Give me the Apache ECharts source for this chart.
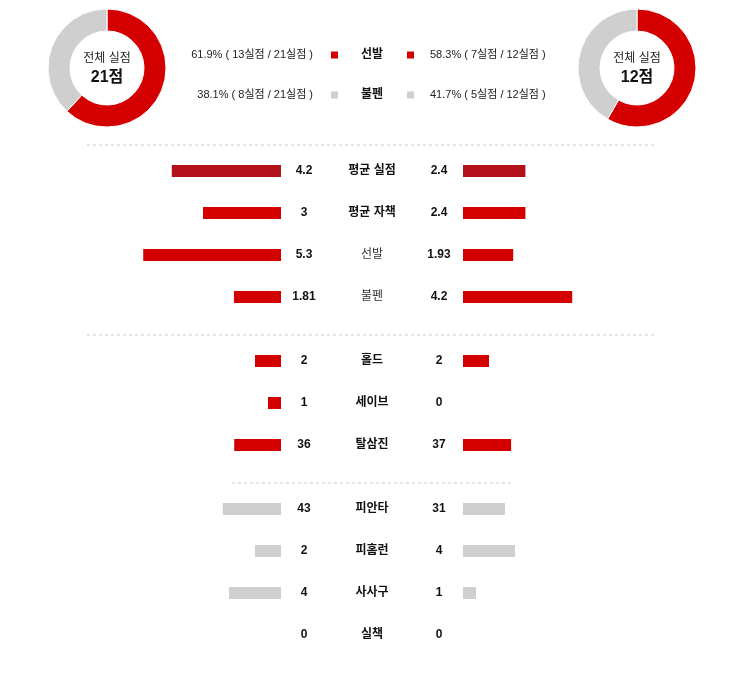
<!DOCTYPE html>
<html>
<head>
<meta charset="utf-8">
<script src="https://cdn.jsdelivr.net/npm/echarts@6/dist/echarts.min.js"></script>
<style>
  html, body { margin: 0; padding: 0; background: #fff; }
  #echart { width: 745px; height: 689px; }
</style>
</head>
<body>
<div id="echart"></div>
<script>
// 실점 구성 (선발 / 불펜)
var pieNames = ['선발', '불펜'];
var homeRuns = [13, 8];
var awayRuns = [7, 5];

// 비교 항목
var categories = ['평균 실점', '평균 자책', '선발', '불펜', '홀드', '세이브', '탈삼진', '피안타', '피홈런', '사사구', '실책'];
var homeValues = [4.2, 3, 5.3, 1.81, 2, 1, 36, 43, 2, 4, 0];
var awayValues = [2.4, 2.4, 1.93, 4.2, 2, 0, 37, 31, 4, 1, 0];
var homeLabels = ['4.2', '3', '5.3', '1.81', '2', '1', '36', '43', '2', '4', '0'];
var awayLabels = ['2.4', '2.4', '1.93', '4.2', '2', '0', '37', '31', '4', '1', '0'];
// 막대 길이 기준값 (행별 최대)
var rowMax = [5, 5, 5, 5, 10, 10, 100, 96, 10, 10, 10];
var groups = [[0, 4], [4, 7], [7, 11]];

var RED = '#d40000', DARK = '#b4121a', GRAY = '#cfcfcf';
var FONT = "'Liberation Sans', 'Noto Sans CJK KR', sans-serif";
var rowColor = function (i) { return i === 0 ? DARK : (i < 7 ? RED : GRAY); };

var myChart = echarts.init(document.getElementById('echart'));

var sum = function (a) { return a.reduce(function (s, v) { return s + v; }, 0); };
var homeTotal = sum(homeRuns), awayTotal = sum(awayRuns);

var grids = [], xAxes = [], yAxes = [], series = [];
var tops = [150, 340, 488];
groups.forEach(function (g, gi) {
    var cats = categories.slice(g[0], g[1]);
    var h = cats.length * 42;
    // 왼쪽
    grids.push({ left: 125, width: 156, top: tops[gi], height: h });
    var lg = grids.length - 1;
    xAxes.push({ gridIndex: lg, type: 'value', min: 0, max: 1.2, inverse: true, show: false });
    yAxes.push({
        gridIndex: lg, type: 'category', data: cats, inverse: true, position: 'right',
        axisLine: { show: false }, axisTick: { show: false }, splitLine: { show: false },
        axisLabel: {
            margin: 23, align: 'center', fontSize: 12, fontWeight: 'bold', color: '#111', fontFamily: FONT,
            formatter: function (v, i) { return homeLabels[g[0] + i]; }
        }
    });
    var ly = yAxes.length - 1;
    yAxes.push({
        gridIndex: lg, type: 'category', data: cats, inverse: true, position: 'right', offset: 91,
        axisLine: { show: false }, axisTick: { show: false }, splitLine: { show: false },
        axisLabel: {
            margin: 0, align: 'center', fontSize: 12, fontFamily: FONT,
            formatter: function (v) {
                return (v === '선발' || v === '불펜') ? '{n|' + v + '}' : '{b|' + v + '}';
            },
            rich: {
                b: { fontSize: 12, fontWeight: 'bold', color: '#111', fontFamily: FONT },
                n: { fontSize: 12, color: '#333', fontFamily: FONT }
            }
        }
    });
    series.push({
        type: 'bar', xAxisIndex: xAxes.length - 1, yAxisIndex: ly, barWidth: 12, clip: false,
        silent: true, animation: false,
        data: homeValues.slice(g[0], g[1]).map(function (v, i) {
            return { value: v / rowMax[g[0] + i], itemStyle: { color: rowColor(g[0] + i) } };
        })
    });
    // 오른쪽
    grids.push({ left: 463, width: 156, top: tops[gi], height: h });
    var rg = grids.length - 1;
    xAxes.push({ gridIndex: rg, type: 'value', min: 0, max: 1.2, show: false });
    yAxes.push({
        gridIndex: rg, type: 'category', data: cats, inverse: true, position: 'left',
        axisLine: { show: false }, axisTick: { show: false }, splitLine: { show: false },
        axisLabel: {
            margin: 24, align: 'center', fontSize: 12, fontWeight: 'bold', color: '#111', fontFamily: FONT,
            formatter: function (v, i) { return awayLabels[g[0] + i]; }
        }
    });
    series.push({
        type: 'bar', xAxisIndex: xAxes.length - 1, yAxisIndex: yAxes.length - 1, barWidth: 12, clip: false,
        silent: true, animation: false,
        data: awayValues.slice(g[0], g[1]).map(function (v, i) {
            return { value: v / rowMax[g[0] + i], itemStyle: { color: rowColor(g[0] + i) } };
        })
    });
});

function pieSeries(center, runs) {
    return {
        type: 'pie', center: center, radius: [37, 59], silent: true, animation: false,
        startAngle: 90, label: { show: false }, labelLine: { show: false },
        itemStyle: { borderColor: '#fff', borderWidth: 1 },
        data: runs.map(function (v, i) {
            return { name: pieNames[i], value: v, itemStyle: { color: i === 0 ? RED : GRAY } };
        })
    };
}
series.push(pieSeries([107, 68], homeRuns));
series.push(pieSeries([637, 68], awayRuns));

var pct = function (v, t) { return (v / t * 100).toFixed(1) + '%'; };
var graphic = [];
[[107, homeTotal], [637, awayTotal]].forEach(function (p) {
    graphic.push({ type: 'text', x: p[0], y: 59, style: { text: '전체 실점', fill: '#222', font: '12px ' + FONT, textAlign: 'center', textVerticalAlign: 'middle' } });
    graphic.push({ type: 'text', x: p[0], y: 78, style: { text: p[1] + '점', fill: '#111', font: 'bold 16px ' + FONT, textAlign: 'center', textVerticalAlign: 'middle' } });
});
[55, 95].forEach(function (y, i) {
    var c = i === 0 ? RED : GRAY;
    graphic.push({ type: 'text', x: 313, y: y, style: { text: pct(homeRuns[i], homeTotal) + ' ( ' + homeRuns[i] + '실점 / ' + homeTotal + '실점 )', fill: '#222', font: '11px ' + FONT, textAlign: 'right', textVerticalAlign: 'middle' } });
    graphic.push({ type: 'rect', shape: { x: 331, y: y - 3.5, width: 7, height: 7 }, style: { fill: c } });
    graphic.push({ type: 'text', x: 372, y: y, style: { text: pieNames[i], fill: '#111', font: 'bold 12px ' + FONT, textAlign: 'center', textVerticalAlign: 'middle' } });
    graphic.push({ type: 'rect', shape: { x: 407, y: y - 3.5, width: 7, height: 7 }, style: { fill: c } });
    graphic.push({ type: 'text', x: 430, y: y, style: { text: pct(awayRuns[i], awayTotal) + ' ( ' + awayRuns[i] + '실점 / ' + awayTotal + '실점 )', fill: '#222', font: '11px ' + FONT, textAlign: 'left', textVerticalAlign: 'middle' } });
});
// 구분선
[[87, 655, 145], [87, 655, 335], [232, 511, 483]].forEach(function (l) {
    graphic.push({ type: 'line', shape: { x1: l[0], y1: l[2], x2: l[1], y2: l[2] }, style: { stroke: '#e6e6e6', lineWidth: 2, lineDash: [3, 3] } });
});

var option = {
    animation: false,
    textStyle: { fontFamily: FONT },
    grid: grids,
    xAxis: xAxes,
    yAxis: yAxes,
    series: series,
    graphic: graphic
};
myChart.setOption(option);
</script>
</body>
</html>
